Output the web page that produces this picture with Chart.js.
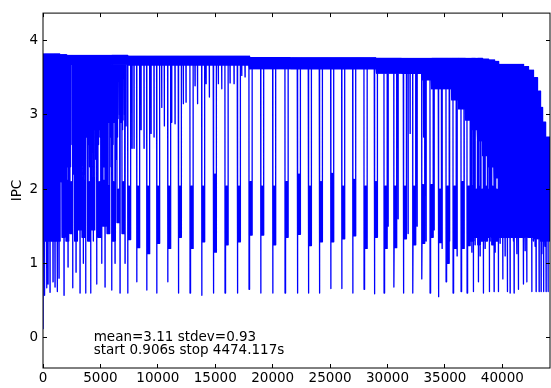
<!DOCTYPE html>
<html>
<head>
<meta charset="utf-8">
<script src="https://cdn.jsdelivr.net/npm/chart.js@4.4.1/dist/chart.umd.min.js"></script>
<style>
  html, body { margin: 0; background: #fff; }
  canvas { display: block; }
</style>
</head>
<body>
<canvas id="ipcChart" width="551" height="388"></canvas>
<script>
const xTicks = [0, 5000, 10000, 15000, 20000, 25000, 30000, 35000, 40000];
const yTicks = [0, 1, 2, 3, 4];
const xMax = 44150;
const statsLines = ['mean=3.11 stdev=0.93', 'start 0.906s stop 4474.117s'];

// running band of IPC: start sample of each stretch, its upper and lower level
const bandStart = [0, 1480, 2050, 7400, 18000, 29000, 33000, 33800, 35600, 36200, 36800, 37300, 37800,
  38300, 38800, 39300, 39700, 41900, 42250, 42700, 43030, 43300, 43550, 43810];
const bandHigh = [3.82, 3.81, 3.80, 3.79, 3.77, 3.76, 3.76, 3.76, 3.76, 3.76, 3.76, 3.76, 3.76,
  3.75, 3.74, 3.72, 3.68, 3.65, 3.60, 3.50, 3.32, 3.10, 2.90, 2.70];
const bandLow = [1.30, 2.10, 3.68, 3.67, 3.62, 3.56, 3.47, 3.35, 3.20, 3.08, 2.93, 2.80, 2.65,
  2.45, 2.30, 2.15, 1.35, 1.35, 1.35, 1.33, 1.33, 1.30, 1.30, 1.30];

// periodic stalls: sample, deepest drop, then a short stretch between top and bottom
const stallX = [7377, 8161, 9032, 9903, 10861, 11785, 12804, 13823, 14833, 15852, 16924, 17943,
  18962, 20007, 21078, 22150, 23108, 24066, 25059, 26017, 26975, 27959, 28856, 29701,
  30555, 31382, 32201, 32985, 33708, 34431, 35101, 35711, 36408, 36930];
const stallDrop = [0.60, 0.75, 0.64, 0.60, 0.75, 0.60, 0.60, 0.57, 0.60, 0.60, 0.60, 0.65,
  0.60, 0.60, 0.60, 0.60, 0.60, 0.60, 0.66, 0.66, 0.60, 0.65, 0.59, 0.60,
  0.68, 0.60, 0.60, 0.79, 0.60, 0.55, 0.75, 0.60, 0.62, 0.60];
const stallTop = [2.04, 2.04, 2.04, 2.04, 2.04, 2.04, 2.04, 2.04, 2.20, 2.04, 2.04, 2.10,
  2.04, 2.04, 2.10, 2.20, 2.04, 2.10, 2.21, 2.04, 2.13, 2.04, 2.10, 2.04,
  2.04, 2.04, 2.04, 2.06, 2.06, 2.00, 2.04, 2.04, 2.10, 2.04];
const stallBottom = [1.32, 1.21, 1.13, 1.27, 1.20, 1.35, 1.20, 1.29, 1.15, 1.25, 1.29, 1.38,
  1.38, 1.25, 1.35, 1.39, 1.24, 1.29, 1.29, 1.33, 1.37, 1.20, 1.35, 1.20,
  1.21, 1.33, 1.25, 1.27, 1.35, 1.28, 1.00, 1.20, 1.20, 1.24];

// low stretches without a deep drop
const blockX = [1655, 2003, 2352, 2744, 3092, 3397, 3876, 4268, 4791, 5226, 5575, 6053, 6445, 6881,
  37279, 37583, 37844, 38150, 38454, 38716, 39064, 39412];
const blockTop = [2.10, 2.12, 2.10, 2.10, 2.15, 2.12, 2.10, 2.15, 2.10, 2.12, 2.05, 2.10, 2.00, 2.10,
  2.04, 2.00, 2.04, 2.00, 2.04, 2.00, 2.04, 2.00];
const blockBottom = [1.35, 1.30, 1.40, 1.30, 1.45, 1.35, 1.30, 1.45, 1.35, 1.50, 1.40, 1.30, 1.55, 1.40,
  1.30, 1.35, 1.25, 1.30, 1.30, 1.35, 1.25, 1.30];

// single deep samples
const dropX = [0, 131, 322, 436, 610, 871, 1045, 1246, 1394,
  1829, 2178, 2587, 2874, 3223, 3510, 3719, 4155, 4381, 4677, 5113, 5400, 5662, 5984, 6271, 6707, 7142,
  30050, 30920, 31792, 32575, 33359, 34056, 34753, 35406, 36059, 36669,
  37479, 37915, 38350, 38873, 39282, 39657, 40040, 40441, 40676, 41024, 41399, 41834, 42130, 42566,
  42940, 43202, 43376, 43594, 43811, 43986,
  37339, 37627, 38063, 38498, 38934, 39369, 39805, 40240, 40964, 41259, 41695, 41982, 42418, 42705,
  42853, 43436, 43724, 44011];
const dropY = [0.12, 0.57, 0.67, 0.72, 0.61, 0.75, 0.68, 0.62, 0.80,
  0.57, 0.95, 0.67, 0.88, 0.60, 1.00, 0.60, 0.60, 1.30, 0.72, 1.00, 0.68, 1.40, 0.64, 1.00, 0.60, 1.00,
  1.50, 1.60, 1.40, 1.50, 1.30, 1.45, 1.20, 1.30, 1.10, 1.25,
  0.62, 0.75, 0.60, 0.62, 0.62, 0.62, 0.79, 0.62, 0.60, 0.60, 0.65, 0.72, 0.75, 0.62,
  0.62, 0.62, 0.62, 0.62, 0.62, 0.62,
  1.15, 1.25, 1.10, 1.20, 1.30, 1.15, 1.27, 1.10, 1.30, 1.13, 1.35, 1.17, 1.37, 1.30,
  1.23, 1.13, 1.23, 1.33];

// shallow dips below the running band
const dipX = [1568, 1742, 1916, 2090, 2265, 2439, 2787, 2961, 3136, 3310, 3658, 3920, 4007, 4181,
  4529, 4703, 4878, 4965, 5139, 5313, 5487, 5749, 5836, 6097, 6358, 6533, 6794, 6968, 7229,
  7752, 7926, 8536, 8797, 9407, 9668, 10339, 10565, 11210, 11497, 12220, 12455, 13239, 13457,
  14197, 14485, 15269, 15565, 16288, 16636, 17307, 17594, 31966, 33142,
  1524, 1698, 1873, 2073, 2221, 2395, 2657, 2831, 3049, 3266, 3440, 3615, 3789, 4050,
  4311, 4442, 4616, 4834, 5052, 5270, 5444, 5618, 5923, 6184, 6489, 6663, 6925, 7099];
const dipY = [2.20, 2.15, 2.50, 2.30, 2.20, 2.60, 2.30, 2.15, 2.50, 2.20, 2.40, 2.10, 2.60, 2.30,
  2.50, 2.20, 2.80, 2.70, 2.52, 2.30, 2.60, 2.90, 2.30, 2.60, 2.40, 2.95, 2.90, 2.93, 2.85,
  2.55, 2.55, 2.80, 2.55, 2.75, 2.70, 3.10, 2.85, 2.90, 2.88, 3.15, 3.17, 3.39, 3.15,
  3.42, 3.24, 3.42, 3.35, 3.43, 3.42, 3.53, 3.51, 2.75, 2.70,
  2.40, 2.10, 2.30, 2.60, 2.15, 2.30, 2.20, 2.60, 2.30, 2.15, 2.50, 2.20, 2.70, 2.30,
  2.50, 2.80, 2.40, 2.60, 2.90, 2.40, 2.70, 2.50, 2.70, 2.90, 2.70, 3.00, 2.80, 3.00];

const colStep = 29;    // three samples per pixel column
const blockWidth = 240;

function bandIndex(x) {
  let s = 0;
  while (s + 1 < bandStart.length && bandStart[s + 1] <= x) s++;
  return s;
}

// the steady part of the run, swinging between the band levels
function buildBand() {
  const pts = [];
  bandStart.forEach((start, s) => {
    const end = s + 1 < bandStart.length ? bandStart[s + 1] : xMax;
    for (let x = start; x < end; x += colStep) {
      pts.push({ x, y: bandHigh[s] }, { x: x + colStep / 2, y: bandLow[s] });
    }
  });
  return pts;
}

function blockPoints(x0, top, bottom) {
  const pts = [];
  for (let k = 0; k <= 10; k++) {
    pts.push({ x: x0 + k * blockWidth / 10, y: k % 2 ? top : bottom });
  }
  return pts;
}

// every excursion leaves the band and comes back to it
function buildExcursions() {
  const events = [];
  stallX.forEach((x, i) => events.push([{ x, y: stallDrop[i] }, ...blockPoints(x + 20, stallTop[i], stallBottom[i])]));
  blockX.forEach((x, i) => events.push(blockPoints(x, blockTop[i], blockBottom[i])));
  dropX.forEach((x, i) => events.push([{ x, y: dropY[i] }]));
  dipX.forEach((x, i) => events.push([{ x, y: dipY[i] }]));
  events.sort((a, b) => a[0].x - b[0].x);

  const out = [];
  events.forEach(pts => {
    const first = pts[0].x;
    const last = pts[pts.length - 1].x;
    out.push({ x: Math.max(0, first - 10), y: bandLow[bandIndex(first)] }, ...pts,
      { x: last + 10, y: bandLow[bandIndex(last)] }, { x: last + 11, y: null });
  });
  return out;
}

const frameAndNotes = {
  id: 'frameAndNotes',
  afterDraw(chart) {
    const { ctx, chartArea: a, scales: { x, y } } = chart;
    ctx.save();
    ctx.strokeStyle = '#000';
    ctx.lineWidth = 1;
    ctx.beginPath();
    xTicks.forEach(v => {
      const px = Math.floor(x.getPixelForValue(v)) + 0.5;
      ctx.moveTo(px, a.bottom); ctx.lineTo(px, a.bottom - 4);
      ctx.moveTo(px, a.top); ctx.lineTo(px, a.top + 4);
    });
    yTicks.forEach(v => {
      const py = Math.floor(y.getPixelForValue(v)) + 0.5;
      ctx.moveTo(a.left, py); ctx.lineTo(a.left + 4, py);
      ctx.moveTo(a.right, py); ctx.lineTo(a.right - 4, py);
    });
    ctx.stroke();
    ctx.strokeRect(a.left, a.top, a.right - a.left, a.bottom - a.top);

    ctx.fillStyle = '#000';
    ctx.font = '13.5px "DejaVu Sans"';
    ctx.textBaseline = 'alphabetic';
    const tx = a.left + 0.1 * (a.right - a.left);
    statsLines.forEach((t, i) => ctx.fillText(t, tx, a.bottom - 27.5 + i * 13.7));
    ctx.restore();
  }
};

Chart.defaults.font.family = '"DejaVu Sans"';
Chart.defaults.font.size = 13.5;
Chart.defaults.color = '#000';

const lineStyle = {
  borderColor: '#0000ff',
  borderWidth: 1.3,
  borderJoinStyle: 'round',
  pointRadius: 0,
  tension: 0,
  fill: false,
  spanGaps: false
};

new Chart(document.getElementById('ipcChart').getContext('2d'), {
  type: 'line',
  data: {
    datasets: [
      { data: buildBand(), ...lineStyle },
      { data: buildExcursions(), ...lineStyle }
    ]
  },
  options: {
    responsive: false,
    animation: false,
    parsing: false,
    events: [],
    layout: { padding: { top: 8, right: 1, left: 0, bottom: 0 } },
    plugins: { legend: { display: false }, tooltip: { enabled: false } },
    scales: {
      x: {
        type: 'linear',
        min: 0,
        max: xMax,
        afterFit: s => { s.height = 20; },
        afterBuildTicks: s => { s.ticks = xTicks.map(value => ({ value })); },
        ticks: { callback: v => String(v), maxRotation: 0, autoSkip: false, padding: 2 },
        grid: { display: false, drawTicks: false },
        border: { display: false }
      },
      y: {
        type: 'linear',
        min: -0.41,
        max: 4.37,
        afterFit: s => { s.width = 43; },
        afterBuildTicks: s => { s.ticks = yTicks.map(value => ({ value })); },
        ticks: { callback: v => String(v), padding: 5 },
        grid: { display: false, drawTicks: false },
        border: { display: false },
        title: { display: true, text: 'IPC', padding: { top: 9, bottom: 0 } }
      }
    }
  },
  plugins: [frameAndNotes]
});
</script>
</body>
</html>
